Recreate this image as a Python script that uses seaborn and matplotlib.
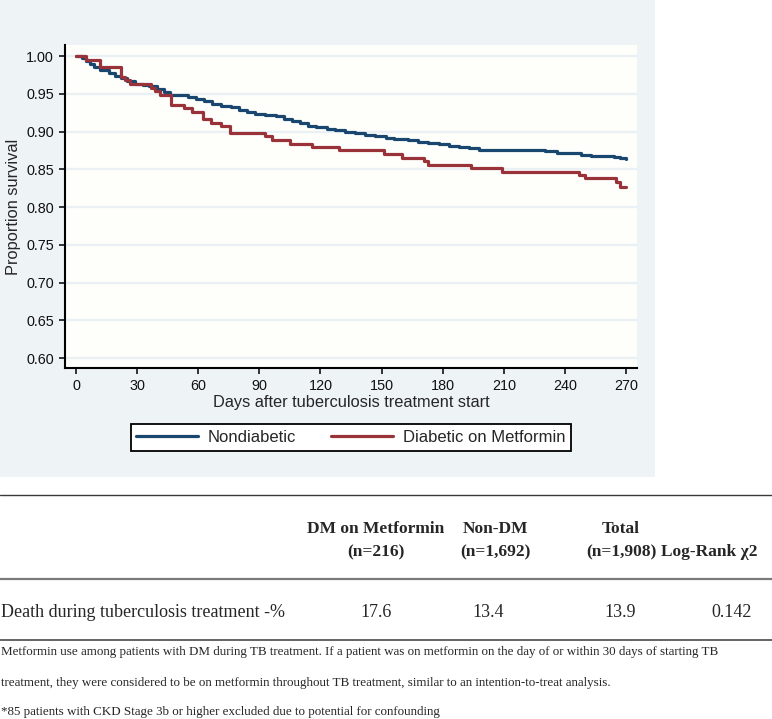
import numpy as np
import pandas as pd
import matplotlib
matplotlib.use("Agg")
import matplotlib.pyplot as plt
import matplotlib.ticker as ticker
from matplotlib.lines import Line2D
from matplotlib.patches import Rectangle
import seaborn as sns

# Kaplan-Meier curves (days, proportion surviving)
nondm_days = [0, 3, 5, 7, 9, 12, 16, 19, 22, 25, 29, 33, 36, 40, 43, 46, 50, 55, 59, 63,
              67, 71, 76, 80, 84, 88, 93, 98, 102, 106, 110, 114, 118, 123, 127, 132, 137,
              142, 147, 152, 156, 163, 168, 173, 178, 183, 188, 193, 198, 204, 212, 222,
              230, 236, 242, 248, 253, 258, 264, 267, 270]
nondm_surv = [1.000, 0.997, 0.993, 0.989, 0.985, 0.981, 0.977, 0.974, 0.971, 0.967, 0.963,
              0.961, 0.960, 0.957, 0.953, 0.949, 0.948, 0.946, 0.943, 0.940, 0.937, 0.934,
              0.932, 0.929, 0.926, 0.923, 0.922, 0.920, 0.917, 0.914, 0.911, 0.908, 0.906,
              0.904, 0.902, 0.900, 0.898, 0.896, 0.894, 0.892, 0.890, 0.889, 0.886, 0.885,
              0.883, 0.881, 0.879, 0.878, 0.876, 0.875, 0.875, 0.875, 0.874, 0.872, 0.871,
              0.869, 0.868, 0.867, 0.866, 0.865, 0.864]

metf_days = [0, 5, 12, 22, 24, 26.5, 37, 39, 41, 46.5, 53, 57, 62.5, 66.5, 71, 75.5, 93,
             96, 105, 116, 129, 151, 160, 171, 173, 194, 209, 247, 250, 265, 267, 270]
metf_surv = [1.000, 0.995, 0.986, 0.972, 0.968, 0.963, 0.958, 0.954, 0.949, 0.935, 0.931,
             0.926, 0.917, 0.912, 0.907, 0.898, 0.894, 0.889, 0.884, 0.880, 0.875, 0.870,
             0.865, 0.861, 0.856, 0.852, 0.847, 0.842, 0.838, 0.833, 0.827, 0.827]

groups = ["Nondiabetic", "Diabetic on Metformin"]
colors = ["#1A476F", "#9A3339"]

xticks = [0, 30, 60, 90, 120, 150, 180, 210, 240, 270]
yticks = [0.60, 0.65, 0.70, 0.75, 0.80, 0.85, 0.90, 0.95, 1.00]

# table below the chart
col_heads = [("DM on Metformin", "(n=216)"), ("Non-DM", "(n=1,692)"), ("Total", "(n=1,908)")]
row_label = "Death during tuberculosis treatment -%"
row_values = ["17.6", "13.4", "13.9", "0.142"]
notes = ["Metformin use among patients with DM during TB treatment. If a patient was on metformin on the day of or within 30 days of starting TB",
         "treatment, they were considered to be on metformin throughout TB treatment, similar to an intention-to-treat analysis.",
         "*85 patients with CKD Stage 3b or higher excluded due to potential for confounding"]

df = pd.concat([
    pd.DataFrame({"Days": nondm_days, "Survival": nondm_surv, "Group": groups[0]}),
    pd.DataFrame({"Days": metf_days, "Survival": metf_surv, "Group": groups[1]}),
], ignore_index=True)

sns.set_theme(style="ticks")
plt.rcParams["font.family"] = ["Liberation Sans", "DejaVu Sans"]

W, H = 772, 719
fig = plt.figure(figsize=(W / 100, H / 100), dpi=100, facecolor="white")

def fx(x):
    return x / W

def fy(y):
    return 1 - y / H

# Stata-like graph region
fig.add_artist(Rectangle((0, fy(477)), fx(655), 477 / H, transform=fig.transFigure,
                         facecolor="#EEF3F6", edgecolor="none", zorder=-1))

ax = fig.add_axes([fx(65), fy(368), fx(637) - fx(65), (368 - 45) / H])
ax.set_facecolor("#FEFEFB")

sns.lineplot(data=df, x="Days", y="Survival", hue="Group", hue_order=groups,
             palette=colors, drawstyle="steps-post", linewidth=2.3, ax=ax,
             errorbar=None, sort=True, legend=False)

ax.set_xlim(-5.4, 275.4)
ax.set_ylim(0.587, 1.0146)
ax.set_xticks(xticks)
ax.set_yticks(yticks)
ax.yaxis.set_major_formatter(ticker.FormatStrFormatter("%.2f"))
ax.grid(axis="y", color="#EAF1F4", linewidth=1.6)
ax.set_axisbelow(True)
for s in ["top", "right"]:
    ax.spines[s].set_visible(False)
for s in ["left", "bottom"]:
    ax.spines[s].set_linewidth(1.5)
    ax.spines[s].set_color("black")
ax.tick_params(axis="both", direction="out", length=4, width=1.1, color="black",
               labelsize=10.4, pad=4, labelcolor="#111111")
ax.set_xlabel("Days after tuberculosis treatment start", fontsize=11.8, labelpad=1)
ax.set_ylabel("Proportion survival", fontsize=11.8, labelpad=4)

handles = [Line2D([], [], color=c, lw=2.3) for c in colors]
leg = fig.legend(handles, groups, loc="center", bbox_to_anchor=(fx(351), fy(437.5)),
                 ncol=2, fontsize=12, frameon=True, fancybox=False, framealpha=1,
                 edgecolor="black", facecolor="white", handlelength=3.7,
                 handletextpad=0.6, columnspacing=2.1, borderpad=0.35, borderaxespad=0)
leg.get_frame().set_linewidth(1.3)

# table
serif = ["Liberation Serif", "DejaVu Serif"]
fig.add_artist(Line2D([0, 1], [fy(495), fy(495)], transform=fig.transFigure, color="#3a3a3a", lw=1.0))
fig.add_artist(Line2D([0, 1], [fy(578.5), fy(578.5)], transform=fig.transFigure, color="#7a7a7a", lw=1.6))
fig.add_artist(Line2D([0, 1], [fy(640), fy(640)], transform=fig.transFigure, color="#3a3a3a", lw=1.1))

head_x = [376, 495, 621]
for (l1, l2), x in zip(col_heads, head_x):
    fig.text(fx(x), fy(529), l1, ha="center", va="center", family=serif, fontsize=12.5, fontweight="bold")
    fig.text(fx(x), fy(552), l2, ha="center", va="center", family=serif, fontsize=12.5, fontweight="bold")
fig.text(fx(661), fy(552), "Log-Rank χ2", ha="left", va="center", family=serif, fontsize=12.5, fontweight="bold")

fig.text(fx(1), fy(612.5), row_label, ha="left", va="center", family=serif, fontsize=13)
val_x = [376, 488, 620, 732]
for v, x in zip(row_values, val_x):
    fig.text(fx(x), fy(612.5), v, ha="center", va="center", family=serif, fontsize=13)

for t, y in zip(notes, [652, 683, 712]):
    fig.text(fx(1), fy(y), t, ha="left", va="center", family=serif, fontsize=9.4)

fig.savefig("out.png", dpi=100, facecolor="white")
